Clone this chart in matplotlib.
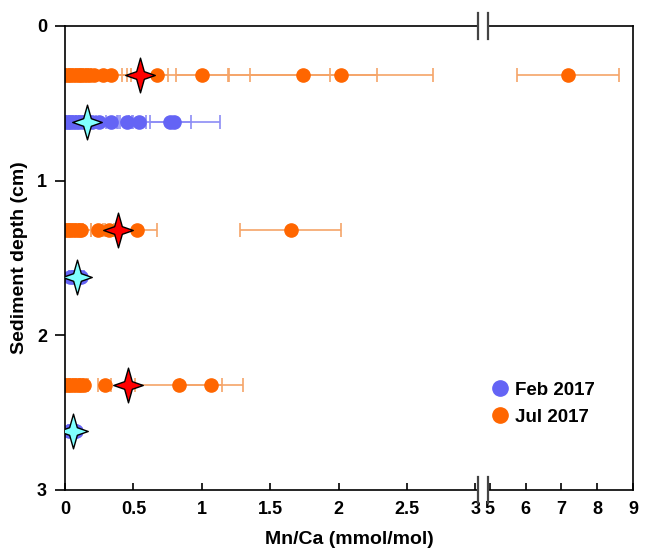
#!/usr/bin/env python3
"""Mn/Ca vs sediment depth, broken x-axis."""

import matplotlib
matplotlib.use("Agg")
import matplotlib.pyplot as plt
from matplotlib.path import Path
from matplotlib.lines import Line2D

plt.rcParams["font.family"] = ["Liberation Sans Narrow", "Liberation Sans", "DejaVu Sans"]
plt.rcParams["font.weight"] = "bold"

# Jul 2017 individual measurements (depth cm, Mn/Ca, error)
jul_depth = [0.32] * 18 + [1.32] * 11 + [2.32] * 11
jul_mnca = [0.00, 0.02, 0.04, 0.06, 0.08, 0.10, 0.12, 0.14, 0.16, 0.18, 0.21,
            0.28, 0.34, 0.67, 1.00, 1.74, 2.02, 7.19,
            0.00, 0.02, 0.04, 0.06, 0.08, 0.10, 0.12, 0.24, 0.32, 0.53, 1.65,
            0.00, 0.02, 0.04, 0.06, 0.08, 0.10, 0.12, 0.14, 0.29, 0.83, 1.07]
jul_err = [0.01, 0.01, 0.01, 0.02, 0.02, 0.02, 0.03, 0.03, 0.03, 0.24, 0.24,
           0.20, 0.41, 1.27, 0.19, 0.54, 0.67, 1.42,
           0.01, 0.01, 0.02, 0.02, 0.02, 0.03, 0.07, 0.05, 0.04, 0.14, 0.37,
           0.01, 0.01, 0.02, 0.02, 0.02, 0.03, 0.04, 0.03, 0.05, 0.32, 0.23]

# Feb 2017 individual measurements
feb_depth = [0.62] * 15 + [1.62] * 5 + [2.62] * 4
feb_mnca = [0.00, 0.02, 0.04, 0.06, 0.08, 0.10, 0.13, 0.16, 0.20,
            0.25, 0.34, 0.45, 0.54, 0.77, 0.80,
            0.04, 0.06, 0.08, 0.10, 0.12,
            0.03, 0.05, 0.07, 0.08]
feb_err = [0.01, 0.01, 0.01, 0.02, 0.02, 0.02, 0.03, 0.03, 0.03,
           0.14, 0.04, 0.05, 0.05, 0.15, 0.33,
           0.01, 0.01, 0.02, 0.02, 0.02,
           0.01, 0.01, 0.01, 0.01]

# depth means
jul_mean_depth = [0.32, 1.32, 2.32]
jul_mean = [0.55, 0.39, 0.46]
feb_mean_depth = [0.62, 1.62, 2.62]
feb_mean = [0.16, 0.09, 0.06]

BLUE = "#6464f5"
BLUE_ERR = "#8c8cf5"
ORANGE = "#ff6600"
ORANGE_ERR = "#f5a468"

# 4-point star marker with concave sides
k = 0.22
sx = 0.85
star = Path([(0, 1), (k, k), (sx, 0), (k, -k), (0, -1), (-k, -k), (-sx, 0), (-k, k), (0, 1)],
            [Path.MOVETO] + [Path.LINETO] * 7 + [Path.CLOSEPOLY])

W, H = 646, 549
fig = plt.figure(figsize=(W / 100, H / 100), dpi=100)
top, bot = 26, 490
axl = fig.add_axes([65 / W, 1 - bot / H, (478 - 65) / W, (bot - top) / H])
axr = fig.add_axes([488 / W, 1 - bot / H, (633 - 488) / W, (bot - top) / H])

for ax in (axl, axr):
    ax.errorbar(feb_mnca, feb_depth, xerr=feb_err, fmt="o", color=BLUE, ms=9.5,
                mec=BLUE, ecolor=BLUE_ERR, elinewidth=1.2, capsize=4.8, capthick=1.2, zorder=2)
    ax.errorbar(jul_mnca, jul_depth, xerr=jul_err, fmt="o", color=ORANGE, ms=9.5,
                mec=ORANGE, ecolor=ORANGE_ERR, elinewidth=1.2, capsize=4.8, capthick=1.2, zorder=2)
    ax.plot(jul_mean, jul_mean_depth, ls="none", marker=star, ms=25, mfc="#ff0000",
            mec="black", mew=1.0, zorder=4)
    ax.plot(feb_mean, feb_mean_depth, ls="none", marker=star, ms=25, mfc="#80ffff",
            mec="black", mew=1.0, zorder=4)
    ax.set_ylim(3, 0)
    ax.spines["top"].set_linewidth(1.2)
    ax.spines["bottom"].set_linewidth(1.2)
    ax.tick_params(axis="x", direction="in", length=5, width=1.2, labelsize=13, pad=8)

axl.set_xlim(0, 3.02)
axl.set_xticks([0, 0.5, 1, 1.5, 2, 2.5, 3])
axl.set_xticklabels(["0", "0.5", "1", "1.5", "2", "2.5", "3"])
axl.spines["right"].set_visible(False)
axl.spines["left"].set_linewidth(1.2)
axl.set_yticks([0, 1, 2, 3])
axl.tick_params(axis="y", direction="out", length=7, width=1.2, labelsize=13, pad=6)
axl.set_ylabel("Sediment depth (cm)", fontsize=14, fontweight="bold", labelpad=6)

axr.set_xlim(4.95, 9)
axr.set_xticks([5, 6, 7, 8, 9])
axr.spines["left"].set_visible(False)
axr.spines["right"].set_linewidth(1.2)
axr.set_yticks([])

fig.text((65 + 633) / 2 / W, 1 - 539 / H, "Mn/Ca (mmol/mol)", ha="center", va="center",
         fontsize=14, fontweight="bold")

# break marks
d = 13 / (bot - top)
for ax, xpos in ((axl, 1), (axr, 0)):
    for ypos in (0, 1):
        ax.plot([xpos, xpos], [ypos - d, ypos + d], transform=ax.transAxes,
                color="#444444", lw=1.6, clip_on=False, zorder=5)

handles = [Line2D([], [], ls="none", marker="o", ms=11, color=BLUE),
           Line2D([], [], ls="none", marker="o", ms=11, color=ORANGE)]
axr.legend(handles, ["Feb 2017", "Jul 2017"], loc="upper left",
           bbox_to_anchor=(0.02, 0.234), frameon=False, fontsize=13.5,
           handlelength=1.0, handletextpad=0.3, labelspacing=0.55,
           borderaxespad=0, borderpad=0)

fig.savefig("out.png", dpi=100, facecolor="white")
